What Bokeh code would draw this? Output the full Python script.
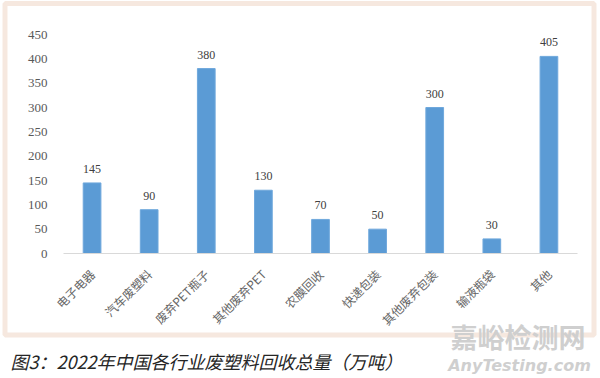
from math import pi

from bokeh.core.properties import value
from bokeh.embed import file_html
from bokeh.layouts import column
from bokeh.models import ColumnDataSource, FixedTicker, LabelSet, Range1d
from bokeh.plotting import figure
from bokeh.resources import INLINE

# ---- data ----
categories = ["电子电器", "汽车废塑料", "废弃PET瓶子", "其他废弃PET", "农膜回收",
              "快递包装", "其他废弃包装", "输液瓶袋", "其他"]
values = [145, 90, 380, 130, 70, 50, 300, 30, 405]
y_ticks = [0, 50, 100, 150, 200, 250, 300, 350, 400, 450]
caption = "图3：2022年中国各行业废塑料回收总量（万吨）"
watermark_cn = "嘉峪检测网"
watermark_en = "AnyTesting.com"

W, H = 600, 378
PL, PR, PT, PB = 63, 577, 34, 253      # plot-area edges (px)
FRAME = "#f6e8df"

# ---------- backdrop: frame, caption, watermark ----------
bg = figure(width=W, height=H, x_range=Range1d(0, W), y_range=Range1d(H, 0),
            x_axis_type=None, y_axis_type=None, output_backend="svg",
            toolbar_location=None, min_border=0)
bg.frame_align = False
bg.outline_line_color = None
bg.background_fill_color = "white"
bg.border_fill_color = "white"
bg.quad(left=[4.5], right=[593.5], top=[3], bottom=[334.5], fill_alpha=0,
        line_color=FRAME, line_width=5)
bg.text(x=[10], y=[360], text=[caption], text_align="left", text_baseline="middle",
        text_font=value("Noto Sans CJK SC"), text_font_size="18px",
        text_font_style="italic", text_color="#262626")
bg.text(x=[517.5], y=[336], text=[watermark_cn], text_align="center",
        text_baseline="middle", text_font=value("Noto Sans CJK SC"),
        text_font_size="27px", text_font_style="bold", text_color="#cfcfcf")
bg.text(x=[519], y=[365], text=[watermark_en], text_align="center",
        text_baseline="alphabetic", text_font=value("DejaVu Sans"),
        text_font_size="16px", text_font_style="bold italic", text_color="#cfcfcf")

# ---------- the bar chart ----------
src = ColumnDataSource(dict(cat=categories, val=values, lbl=[str(v) for v in values]))

p = figure(width=W, height=H, x_range=categories, y_range=Range1d(0, 450),
           output_backend="svg", toolbar_location=None,
           min_border_left=PL, min_border_right=W - PR,
           min_border_top=PT, min_border_bottom=H - PB,
           styles={"margin-top": f"-{H}px"})
p.frame_align = False
p.background_fill_alpha = 0
p.border_fill_alpha = 0
p.outline_line_color = None
p.xgrid.visible = False
p.ygrid.visible = False

p.vbar(x="cat", top="val", width=0.31, source=src,
       fill_color="#5b9bd5", line_color="#6fa8dc", line_width=1)

p.yaxis.ticker = FixedTicker(ticks=y_ticks)
p.yaxis.axis_line_color = None
p.yaxis.major_tick_line_color = None
p.yaxis.minor_tick_line_color = None
p.yaxis.major_label_text_font = "Liberation Serif"
p.yaxis.major_label_text_font_size = "13px"
p.yaxis.major_label_text_color = "#595959"
p.yaxis.major_label_standoff = 10

p.xaxis.axis_line_color = "#d9d9d9"
p.xaxis.major_tick_line_color = None
p.xaxis.minor_tick_line_color = None
p.xaxis.major_label_orientation = pi / 4
p.xaxis.major_label_text_font = "Noto Sans CJK SC"
p.xaxis.major_label_text_font_size = "12px"
p.xaxis.major_label_text_color = "#666666"
p.xaxis.major_label_standoff = 12

labels = LabelSet(x="cat", y="val", text="lbl", source=src, text_align="center",
                  text_baseline="alphabetic", y_offset=10,
                  text_font=value("Liberation Serif"), text_font_size="12px",
                  text_color="#404040")
p.add_layout(labels)

layout = column(bg, p, spacing=0)
open("out.html", "w").write(file_html(layout, INLINE))
